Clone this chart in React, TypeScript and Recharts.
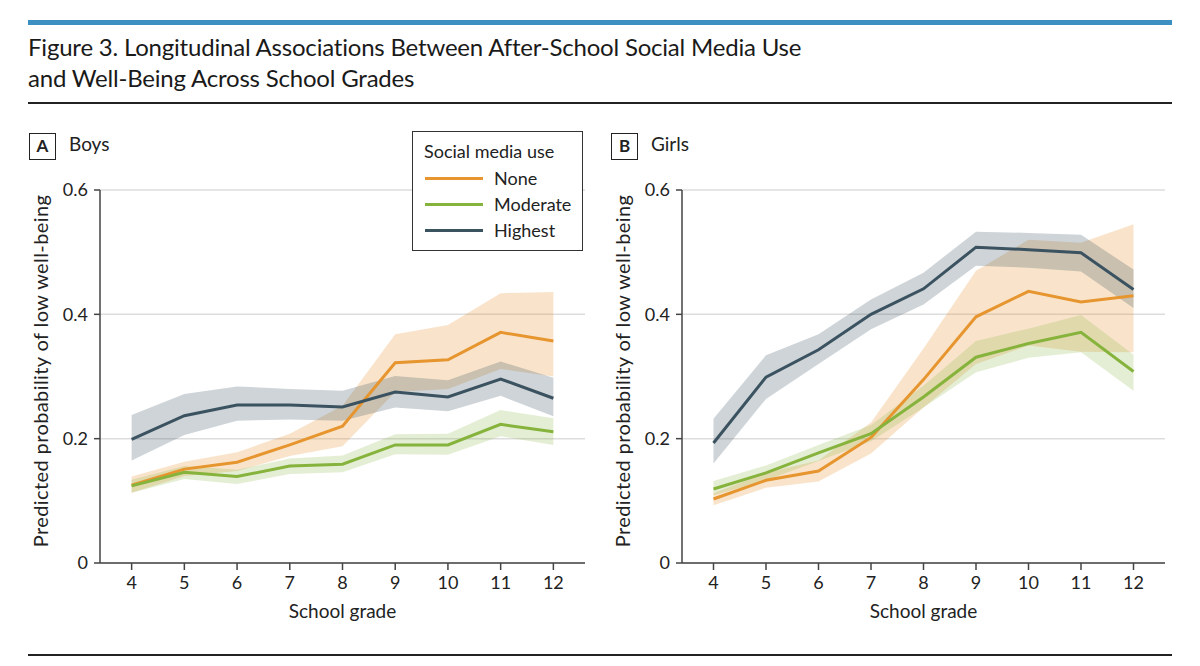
import React from 'react';
import { ComposedChart, Line, Area, XAxis, YAxis, CartesianGrid } from 'recharts';

const grades = [4, 5, 6, 7, 8, 9, 10, 11, 12];
const yTicks = [0, 0.2, 0.4, 0.6];

// Boys
const boysNone = [0.125, 0.151, 0.162, 0.19, 0.22, 0.322, 0.327, 0.371, 0.357];
const boysNoneLow = [0.113, 0.14, 0.148, 0.172, 0.188, 0.275, 0.28, 0.312, 0.3];
const boysNoneHigh = [0.139, 0.163, 0.178, 0.208, 0.253, 0.368, 0.383, 0.434, 0.436];
const boysModerate = [0.124, 0.146, 0.139, 0.156, 0.159, 0.19, 0.19, 0.223, 0.211];
const boysModerateLow = [0.113, 0.135, 0.127, 0.143, 0.146, 0.175, 0.174, 0.204, 0.19];
const boysModerateHigh = [0.134, 0.156, 0.15, 0.168, 0.173, 0.207, 0.208, 0.246, 0.233];
const boysHighest = [0.199, 0.237, 0.254, 0.254, 0.251, 0.275, 0.267, 0.296, 0.265];
const boysHighestLow = [0.165, 0.206, 0.229, 0.231, 0.229, 0.25, 0.244, 0.269, 0.236];
const boysHighestHigh = [0.238, 0.272, 0.284, 0.28, 0.277, 0.301, 0.294, 0.324, 0.298];

// Girls
const girlsNone = [0.103, 0.133, 0.148, 0.202, 0.295, 0.396, 0.437, 0.42, 0.43];
const girlsNoneLow = [0.093, 0.121, 0.131, 0.176, 0.25, 0.32, 0.35, 0.34, 0.339];
const girlsNoneHigh = [0.112, 0.145, 0.165, 0.226, 0.345, 0.47, 0.52, 0.515, 0.545];
const girlsModerate = [0.119, 0.145, 0.177, 0.208, 0.267, 0.331, 0.353, 0.371, 0.308];
const girlsModerateLow = [0.109, 0.133, 0.164, 0.196, 0.25, 0.307, 0.33, 0.339, 0.277];
const girlsModerateHigh = [0.132, 0.157, 0.19, 0.222, 0.285, 0.357, 0.377, 0.399, 0.335];
const girlsHighest = [0.193, 0.299, 0.343, 0.4, 0.441, 0.508, 0.504, 0.499, 0.44];
const girlsHighestLow = [0.16, 0.264, 0.32, 0.376, 0.416, 0.478, 0.475, 0.469, 0.41];
const girlsHighestHigh = [0.232, 0.334, 0.368, 0.424, 0.467, 0.533, 0.531, 0.528, 0.472];

const series = [
  { key: 'none', name: 'None', color: '#e6952f', bandOpacity: 0.25 },
  { key: 'moderate', name: 'Moderate', color: '#86b33c', bandOpacity: 0.22 },
  { key: 'highest', name: 'Highest', color: '#3b5260', bandOpacity: 0.25 },
];

const FONT = 'Lato, "Open Sans", sans-serif';

function buildRows(
  none: number[], noneLow: number[], noneHigh: number[],
  mod: number[], modLow: number[], modHigh: number[],
  high: number[], highLow: number[], highHigh: number[],
) {
  return grades.map((g, i) => ({
    grade: g,
    none: none[i],
    noneBand: [noneLow[i], noneHigh[i]],
    moderate: mod[i],
    moderateBand: [modLow[i], modHigh[i]],
    highest: high[i],
    highestBand: [highLow[i], highHigh[i]],
  }));
}

const boysRows = buildRows(
  boysNone, boysNoneLow, boysNoneHigh,
  boysModerate, boysModerateLow, boysModerateHigh,
  boysHighest, boysHighestLow, boysHighestHigh,
);
const girlsRows = buildRows(
  girlsNone, girlsNoneLow, girlsNoneHigh,
  girlsModerate, girlsModerateLow, girlsModerateHigh,
  girlsHighest, girlsHighestLow, girlsHighestHigh,
);

interface PanelProps {
  letter: string;
  title: string;
  rows: any[];
  left: number;
  rightMargin: number;
  showLegend?: boolean;
}

function Panel({ letter, title, rows, left, rightMargin, showLegend }: PanelProps) {
  const plotLeft = left + 100;
  const plotRight = left + 600 - rightMargin;
  return (
    <>
      <div
        style={{
          position: 'absolute', left: left + 29, top: 133, width: 27, height: 27,
          border: '1.5px solid #222', boxSizing: 'border-box', fontFamily: FONT,
          fontWeight: 700, fontSize: 17, lineHeight: '24px', textAlign: 'center', color: '#222',
        }}
      >
        {letter}
      </div>
      <div style={{ position: 'absolute', left: left + 69, top: 132, fontFamily: FONT, fontSize: 19, color: '#222' }}>
        {title}
      </div>
      <div style={{ position: 'absolute', left, top: 170 }}>
        <ComposedChart width={600} height={470} data={rows} margin={{ top: 20, right: rightMargin, left: 0, bottom: 0 }}>
          <CartesianGrid vertical={false} stroke="#dddddd" strokeWidth={1.5} />
          <XAxis
            type="number"
            dataKey="grade"
            domain={[3.4, 12.6]}
            ticks={grades}
            interval={0}
            height={77}
            tickSize={7}
            tickMargin={6}
            axisLine={{ stroke: '#444', strokeWidth: 1.5 }}
            tickLine={{ stroke: '#444', strokeWidth: 1.5 }}
            tick={{ fill: '#222', fontSize: 18, fontFamily: FONT }}
          />
          <YAxis
            type="number"
            domain={[0, 0.6]}
            ticks={yTicks}
            width={100}
            tickSize={6}
            tickMargin={6}
            tickFormatter={(v: number) => (v === 0 ? '0' : v.toFixed(1))}
            axisLine={{ stroke: '#444', strokeWidth: 1.5 }}
            tickLine={{ stroke: '#444', strokeWidth: 1.5 }}
            tick={{ fill: '#222', fontSize: 18, fontFamily: FONT }}
          />
          {series.map((s) => (
            <Area
              key={s.key + 'Band'}
              type="linear"
              dataKey={s.key + 'Band'}
              stroke="none"
              fill={s.color}
              fillOpacity={s.bandOpacity}
              dot={false}
              activeDot={false}
              isAnimationActive={false}
            />
          ))}
          {series.map((s) => (
            <Line
              key={s.key}
              type="linear"
              dataKey={s.key}
              stroke={s.color}
              strokeWidth={3}
              dot={false}
              activeDot={false}
              isAnimationActive={false}
            />
          ))}
        </ComposedChart>
      </div>
      <div style={{ position: 'absolute', left: left + 40, top: 371, width: 0, height: 0 }}>
        <div
          style={{
            position: 'absolute', left: 0, top: 0, transform: 'translate(-50%, -50%) rotate(-90deg)',
            whiteSpace: 'nowrap', fontFamily: FONT, fontSize: 20, letterSpacing: 0.4, color: '#222',
          }}
        >
          Predicted probability of low well-being
        </div>
      </div>
      <div
        style={{
          position: 'absolute', left: plotLeft, width: plotRight - plotLeft, top: 599, textAlign: 'center',
          fontFamily: FONT, fontSize: 19, color: '#222',
        }}
      >
        School grade
      </div>
      {showLegend && (
        <div
          style={{
            position: 'absolute', left: 412, top: 131, width: 171, height: 120, boxSizing: 'border-box',
            border: '1.5px solid #333', background: '#fff', fontFamily: FONT, color: '#222',
          }}
        >
          <div style={{ position: 'absolute', left: 11, top: 8, fontSize: 18, whiteSpace: 'nowrap' }}>Social media use</div>
          {series.map((s, i) => (
            <div key={s.key} style={{ position: 'absolute', left: 12, top: 35 + i * 26, height: 22, display: 'flex', alignItems: 'center' }}>
              <div style={{ width: 58, height: 3, background: s.color }} />
              <div style={{ marginLeft: 11, fontSize: 18, whiteSpace: 'nowrap' }}>{s.name}</div>
            </div>
          ))}
        </div>
      )}
    </>
  );
}

export default function App() {
  return (
    <div style={{ position: 'absolute', left: 0, top: 0, width: 1200, height: 666, background: '#fff', overflow: 'hidden' }}>
      <div style={{ position: 'absolute', left: 28, top: 20, width: 1144, height: 5, background: '#3d8fc2' }} />
      <div style={{ position: 'absolute', left: 28, top: 31, fontFamily: FONT, fontSize: 24, letterSpacing: -0.2, lineHeight: '31px', color: '#1a1a1a', whiteSpace: 'nowrap' }}>
        Figure 3. Longitudinal Associations Between After-School Social Media Use
        <br />
        and Well-Being Across School Grades
      </div>
      <div style={{ position: 'absolute', left: 28, top: 102, width: 1144, height: 2, background: '#222' }} />
      <Panel letter="A" title="Boys" rows={boysRows} left={0} rightMargin={15} showLegend />
      <Panel letter="B" title="Girls" rows={girlsRows} left={582} rightMargin={17} />
      <div style={{ position: 'absolute', left: 28, top: 654, width: 1144, height: 2, background: '#222' }} />
    </div>
  );
}
